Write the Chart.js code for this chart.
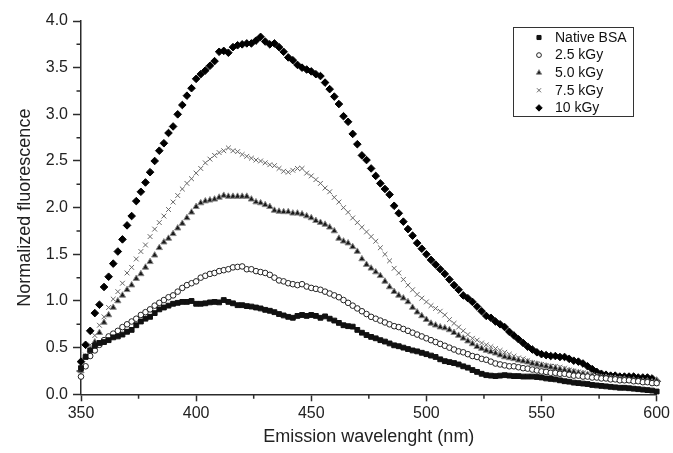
<!DOCTYPE html>
<html>
<head>
<meta charset="utf-8">
<script src="https://cdn.jsdelivr.net/npm/chart.js@4/dist/chart.umd.min.js"></script>
<style>
  body { margin: 0; background: #fff; }
  #wrap { width: 673px; height: 453px; }
</style>
</head>
<body>
<div id="wrap"><canvas id="chart" width="673" height="453"></canvas></div>
<script>
// emission wavelength (nm), sampled every 2 nm
const wavelengths = [
  350, 352, 354, 356, 358, 360, 362, 364, 366, 368,
  370, 372, 374, 376, 378, 380, 382, 384, 386, 388,
  390, 392, 394, 396, 398, 400, 402, 404, 406, 408,
  410, 412, 414, 416, 418, 420, 422, 424, 426, 428,
  430, 432, 434, 436, 438, 440, 442, 444, 446, 448,
  450, 452, 454, 456, 458, 460, 462, 464, 466, 468,
  470, 472, 474, 476, 478, 480, 482, 484, 486, 488,
  490, 492, 494, 496, 498, 500, 502, 504, 506, 508,
  510, 512, 514, 516, 518, 520, 522, 524, 526, 528,
  530, 532, 534, 536, 538, 540, 542, 544, 546, 548,
  550, 552, 554, 556, 558, 560, 562, 564, 566, 568,
  570, 572, 574, 576, 578, 580, 582, 584, 586, 588,
  590, 592, 594, 596, 598, 600
];

const seriesNames = ['Native BSA', '2.5 kGy', '5.0 kGy', '7.5 kGy', '10 kGy'];

const nativeBSA = [
  0.28, 0.40, 0.47, 0.52, 0.55, 0.56, 0.58, 0.61, 0.62, 0.64,
  0.67, 0.69, 0.74, 0.78, 0.81, 0.83, 0.87, 0.91, 0.93, 0.95,
  0.97, 0.98, 0.99, 0.99, 1.00, 0.97, 0.97, 0.975, 0.985, 0.99,
  0.985, 1.01, 0.99, 0.975, 0.955, 0.955, 0.945, 0.94, 0.93, 0.92,
  0.905, 0.895, 0.88, 0.86, 0.845, 0.83, 0.82, 0.84, 0.85, 0.84,
  0.85, 0.84, 0.82, 0.835, 0.81, 0.79, 0.765, 0.74, 0.73, 0.725,
  0.69, 0.66, 0.635, 0.615, 0.60, 0.58, 0.565, 0.545, 0.525, 0.515,
  0.50, 0.485, 0.47, 0.46, 0.445, 0.43, 0.415, 0.40, 0.375, 0.355,
  0.345, 0.335, 0.32, 0.30, 0.285, 0.26, 0.24, 0.22, 0.205, 0.20,
  0.195, 0.20, 0.205, 0.20, 0.195, 0.195, 0.19, 0.19, 0.19, 0.185,
  0.18, 0.17, 0.165, 0.16, 0.15, 0.14, 0.135, 0.125, 0.12, 0.115,
  0.11, 0.10, 0.095, 0.09, 0.085, 0.08, 0.075, 0.07, 0.07, 0.065,
  0.06, 0.055, 0.05, 0.045, 0.04, 0.03
];

const dose25 = [
  0.19, 0.30, 0.41, 0.47, 0.53, 0.58, 0.62, 0.65, 0.68, 0.72,
  0.75, 0.78, 0.81, 0.85, 0.88, 0.91, 0.95, 0.98, 1.01, 1.04,
  1.06, 1.10, 1.14, 1.17, 1.19, 1.21, 1.25, 1.27, 1.29, 1.30,
  1.32, 1.33, 1.34, 1.36, 1.365, 1.37, 1.34, 1.34, 1.32, 1.31,
  1.30, 1.28, 1.25, 1.22, 1.21, 1.19, 1.18, 1.17, 1.18, 1.155,
  1.14, 1.13, 1.12, 1.10, 1.08, 1.06, 1.04, 1.01, 0.98, 0.95,
  0.92, 0.89, 0.86, 0.83, 0.81, 0.79, 0.77, 0.75, 0.73, 0.72,
  0.70, 0.68, 0.66, 0.64, 0.62, 0.60, 0.58, 0.56, 0.54, 0.52,
  0.50, 0.48, 0.46, 0.45, 0.43, 0.41, 0.40, 0.38, 0.37, 0.35,
  0.33, 0.32, 0.31, 0.30, 0.30, 0.29, 0.28, 0.275, 0.265, 0.255,
  0.245, 0.24, 0.23, 0.23, 0.22, 0.22, 0.21, 0.20, 0.20, 0.19,
  0.19, 0.18, 0.18, 0.17, 0.17, 0.16, 0.16, 0.15, 0.15, 0.15,
  0.14, 0.14, 0.13, 0.13, 0.12, 0.12
];

const dose50 = [
  0.25, 0.40, 0.48, 0.56, 0.66, 0.77, 0.85, 0.93, 1.00, 1.06,
  1.12, 1.17, 1.24, 1.29, 1.36, 1.42, 1.49, 1.57, 1.63, 1.67,
  1.72, 1.78, 1.83, 1.89, 1.95, 2.01, 2.05, 2.07, 2.08, 2.09,
  2.11, 2.13, 2.12, 2.12, 2.12, 2.12, 2.12, 2.09, 2.06, 2.05,
  2.03, 2.01, 1.97, 1.96, 1.955, 1.955, 1.94, 1.94, 1.93, 1.91,
  1.89, 1.86, 1.84, 1.82, 1.79, 1.75, 1.67, 1.64, 1.62, 1.58,
  1.53, 1.45, 1.39, 1.35, 1.31, 1.27, 1.21, 1.15, 1.10, 1.06,
  1.03, 0.99, 0.93, 0.88, 0.84, 0.80, 0.76, 0.74, 0.72, 0.71,
  0.69, 0.66, 0.63, 0.60, 0.57, 0.54, 0.51, 0.49, 0.47, 0.455,
  0.44, 0.42, 0.40, 0.39, 0.38, 0.365, 0.355, 0.345, 0.33, 0.32,
  0.31, 0.30, 0.29, 0.28, 0.27, 0.26, 0.25, 0.24, 0.23, 0.22,
  0.21, 0.20, 0.19, 0.18, 0.18, 0.17, 0.17, 0.16, 0.16, 0.15,
  0.15, 0.14, 0.14, 0.14, 0.13, 0.15
];

const dose75 = [
  0.28, 0.42, 0.53, 0.63, 0.74, 0.83, 0.93, 1.02, 1.10, 1.19,
  1.30, 1.36, 1.45, 1.53, 1.60, 1.69, 1.77, 1.84, 1.91, 1.98,
  2.06, 2.13, 2.20, 2.26, 2.31, 2.37, 2.42, 2.48, 2.52, 2.56,
  2.59, 2.61, 2.64, 2.61, 2.60, 2.57, 2.55, 2.53, 2.51, 2.50,
  2.48, 2.46, 2.45, 2.42, 2.39, 2.38, 2.40, 2.42, 2.42, 2.37,
  2.34, 2.30, 2.26, 2.21, 2.17, 2.11, 2.06, 2.00, 1.95, 1.89,
  1.84, 1.79, 1.74, 1.69, 1.64, 1.57, 1.50, 1.43, 1.35, 1.30,
  1.23, 1.17, 1.12, 1.07, 1.03, 0.99, 0.95, 0.92, 0.89, 0.85,
  0.80, 0.76, 0.72, 0.68, 0.64, 0.60, 0.58, 0.55, 0.53, 0.51,
  0.49, 0.47, 0.45, 0.43, 0.41, 0.39, 0.38, 0.36, 0.34, 0.33,
  0.32, 0.31, 0.30, 0.30, 0.29, 0.28, 0.26, 0.25, 0.24, 0.23,
  0.22, 0.21, 0.20, 0.19, 0.18, 0.18, 0.17, 0.17, 0.16, 0.15,
  0.15, 0.14, 0.14, 0.13, 0.13, 0.12
];

const dose10 = [
  0.35, 0.53, 0.68, 0.87, 0.96, 1.15, 1.26, 1.40, 1.53, 1.66,
  1.81, 1.91, 2.07, 2.17, 2.27, 2.38, 2.50, 2.61, 2.69, 2.80,
  2.87, 3.00, 3.10, 3.20, 3.28, 3.38, 3.43, 3.47, 3.52, 3.57,
  3.67, 3.68, 3.66, 3.72, 3.74, 3.75, 3.76, 3.76, 3.79, 3.83,
  3.78, 3.75, 3.76, 3.72, 3.67, 3.61, 3.58, 3.53, 3.50, 3.48,
  3.46, 3.43, 3.41, 3.34, 3.27, 3.19, 3.11, 2.98, 2.92, 2.79,
  2.68, 2.56, 2.51, 2.42, 2.34, 2.26, 2.20, 2.14, 2.02, 1.94,
  1.85, 1.77, 1.70, 1.62, 1.56, 1.50, 1.44, 1.39, 1.34, 1.29,
  1.23, 1.17, 1.12, 1.06, 1.03, 0.99, 0.94, 0.89, 0.84, 0.82,
  0.78, 0.75, 0.72, 0.67, 0.63, 0.59, 0.55, 0.51, 0.48, 0.45,
  0.43, 0.42, 0.41, 0.41, 0.40, 0.40, 0.38, 0.36, 0.35, 0.33,
  0.30, 0.27, 0.24, 0.22, 0.21, 0.20, 0.20, 0.19, 0.19, 0.19,
  0.19, 0.18, 0.18, 0.18, 0.17, 0.14
];

const xTicks = [350, 400, 450, 500, 550, 600];
const yTicks = [0, 0.5, 1.0, 1.5, 2.0, 2.5, 3.0, 3.5, 4.0];

const FONT = 'Arial, "Liberation Sans", sans-serif';
const AXIS = '#2b2b2b';

// marker look for each series
const markers = [
  { pointStyle: 'rect',     radius: 3.4, bg: '#111', border: '#111', bw: 1 },
  { pointStyle: 'circle',   radius: 2.8, bg: '#fff', border: '#222', bw: 1 },
  { pointStyle: 'triangle', radius: 3.6, bg: '#1a1a1a', border: '#888', bw: 1 },
  { pointStyle: 'crossRot', radius: 3.4, bg: '#666', border: '#666', bw: 1 },
  { pointStyle: 'rectRot',  radius: 3.8, bg: '#000', border: '#000', bw: 1 }
];

const allSeries = [nativeBSA, dose25, dose50, dose75, dose10];

const datasets = allSeries.map((vals, i) => ({
  label: seriesNames[i],
  data: vals.map((v, j) => ({ x: wavelengths[j], y: v })),
  showLine: false,
  pointStyle: markers[i].pointStyle,
  pointRadius: markers[i].radius,
  pointBackgroundColor: markers[i].bg,
  pointBorderColor: markers[i].border,
  pointBorderWidth: markers[i].bw,
  clip: 6
}));

// short outward minor ticks between the labelled ones
const minorTicks = {
  id: 'minorTicks',
  afterDraw(chart) {
    const ctx = chart.ctx;
    const xs = chart.scales.x, ys = chart.scales.y;
    const area = chart.chartArea;
    ctx.save();
    ctx.strokeStyle = AXIS;
    ctx.lineWidth = 1.5;
    ctx.beginPath();
    for (let v = 375; v < 600; v += 50) {
      const px = xs.getPixelForValue(v);
      ctx.moveTo(px, area.bottom);
      ctx.lineTo(px, area.bottom + 4.5);
    }
    for (let v = 0.25; v < 4; v += 0.5) {
      const py = ys.getPixelForValue(v);
      ctx.moveTo(area.left, py);
      ctx.lineTo(area.left - 4.5, py);
    }
    ctx.stroke();
    ctx.restore();
  }
};

// boxed legend in the upper right corner
const boxLegend = {
  id: 'boxLegend',
  afterDraw(chart) {
    const ctx = chart.ctx;
    const bx = 513.5, by = 27.5, bw = 120, bh = 89;
    ctx.save();
    ctx.strokeStyle = '#333';
    ctx.lineWidth = 1;
    ctx.fillStyle = '#fff';
    ctx.fillRect(bx, by, bw, bh);
    ctx.strokeRect(bx, by, bw, bh);
    ctx.font = '14px ' + FONT;
    ctx.textBaseline = 'middle';
    seriesNames.forEach((name, i) => {
      const y = 37.5 + i * 17.6;
      const m = markers[i];
      ctx.fillStyle = m.bg;
      ctx.strokeStyle = m.border;
      ctx.lineWidth = m.bw;
      Chart.helpers.drawPoint(ctx, {
        pointStyle: m.pointStyle,
        radius: m.radius * 0.85,
        rotation: 0,
        borderWidth: m.bw
      }, 539, y);
      ctx.fillStyle = '#111';
      ctx.fillText(name, 555, y + 0.5);
    });
    ctx.restore();
  }
};

new Chart(document.getElementById('chart'), {
  type: 'scatter',
  data: { datasets: datasets },
  plugins: [minorTicks, boxLegend],
  options: {
    responsive: false,
    animation: false,
    layout: { padding: { top: 21, right: 14, left: 0, bottom: 0 } },
    plugins: {
      legend: { display: false },
      tooltip: { enabled: false }
    },
    scales: {
      x: {
        type: 'linear',
        min: 350,
        max: 600,
        afterBuildTicks: s => { s.ticks = xTicks.map(v => ({ value: v })); },
        afterFit: s => { s.height = 58.7; },
        grid: { drawOnChartArea: false, drawTicks: true, tickLength: 7, tickColor: AXIS, tickWidth: 1.5 },
        border: { color: AXIS, width: 1.5 },
        ticks: { color: '#222', padding: 3, font: { family: FONT, size: 16 }, maxRotation: 0 },
        title: {
          display: true,
          text: 'Emission wavelenght (nm)',
          color: '#222',
          font: { family: FONT, size: 18 },
          padding: { top: 0, bottom: 5 }
        }
      },
      y: {
        type: 'linear',
        min: 0,
        max: 4,
        afterBuildTicks: s => { s.ticks = yTicks.map(v => ({ value: v })); },
        afterFit: s => { s.width = 81; },
        grid: { drawOnChartArea: false, drawTicks: true, tickLength: 8, tickColor: AXIS, tickWidth: 1.5 },
        border: { color: AXIS, width: 1.5 },
        ticks: {
          color: '#222',
          padding: 5,
          font: { family: FONT, size: 16 },
          callback: v => Number(v).toFixed(1)
        },
        title: {
          display: true,
          text: 'Normalized fluorescence',
          color: '#222',
          font: { family: FONT, size: 18 },
          padding: { top: 14, bottom: 0 }
        }
      }
    }
  }
});
</script>
</body>
</html>
